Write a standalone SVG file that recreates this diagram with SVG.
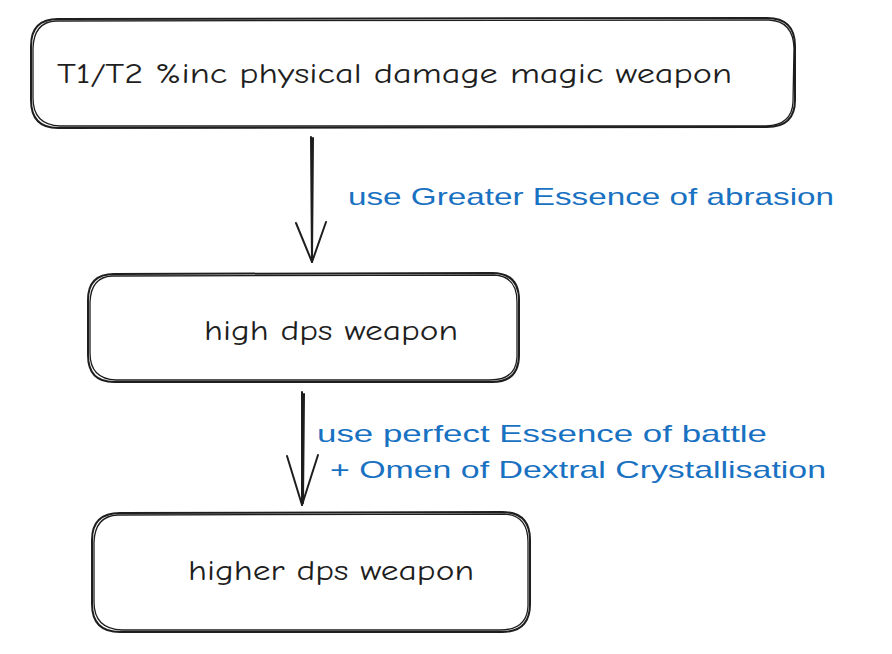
<svg xmlns="http://www.w3.org/2000/svg" width="892" height="654" viewBox="0 0 892 654">
<style>
.box{fill:none;stroke:#1e1e1e;stroke-width:2;stroke-linecap:round}
.box2{fill:none;stroke:#1e1e1e;stroke-width:1.3;stroke-linecap:round}
.t{font-family:"Comic Neue","Liberation Sans","DejaVu Sans",sans-serif;fill:#1e1e1e;font-size:28px}
.lbl{font-family:"Liberation Sans","DejaVu Sans",sans-serif;fill:#1971c2;font-size:24px}
.arr{fill:none;stroke:#1e1e1e;stroke-width:2;stroke-linecap:round;stroke-linejoin:round}
</style>
<rect width="892" height="654" fill="#ffffff"/>
<g id="node1">
<path class="box" d="M58 19 L767 18 Q795 18 795 46 L795 100 Q795 127 767 127 L58 128 Q31 128 31 100 L31 46 Q31 19 58 19 Z"/>
<path class="box2" d="M56 21 L769 20 Q793 21 794 48 L793 102 Q792 125 766 126 L60 126 Q33 125 33 98 L33 48 Q34 22 56 21"/>
<text class="t" x="57" y="83" textLength="675" lengthAdjust="spacingAndGlyphs">T1/T2 %inc physical damage magic weapon</text>
</g>
<g id="node2">
<path class="box" d="M114 274 L492 273 Q519 273 519 300 L519 355 Q519 382 492 382 L114 382 Q88 382 88 355 L88 300 Q88 274 114 274 Z"/>
<path class="box2" d="M112 276 L494 275 Q517 276 517 302 L517 357 Q516 380 490 380 L116 380 Q90 379 90 353 L90 302 Q91 277 112 276"/>
<text class="t" x="204" y="340" textLength="254" lengthAdjust="spacingAndGlyphs">high dps weapon</text>
</g>
<g id="node3">
<path class="box" d="M120 513 L502 512 Q530 512 530 540 L530 604 Q530 632 502 632 L120 632 Q92 632 92 604 L92 540 Q92 513 120 513 Z"/>
<path class="box2" d="M118 515 L504 514 Q528 515 528 542 L528 606 Q527 630 500 630 L122 630 Q94 629 94 602 L94 542 Q95 516 118 515"/>
<text class="t" x="188" y="580" textLength="286" lengthAdjust="spacingAndGlyphs">higher dps weapon</text>
</g>
<g id="connectors">
<path class="arr" d="M311 137 L312 262"/>
<path class="arr" d="M313 138 L312 260"/>
<path class="arr" d="M296 223 L312 262 L326 222"/>
<path class="arr" d="M302 392 L302 505"/>
<path class="arr" d="M304 394 L303 503"/>
<path class="arr" d="M287 456 L302 505 L318 455"/>
<text class="lbl" x="348" y="205" textLength="486" lengthAdjust="spacingAndGlyphs">use Greater Essence of abrasion</text>
<text class="lbl" x="317" y="442" textLength="450" lengthAdjust="spacingAndGlyphs">use perfect Essence of battle</text>
<text class="lbl" x="330" y="478" textLength="496" lengthAdjust="spacingAndGlyphs">+ Omen of Dextral Crystallisation</text>
</g>
</svg>
